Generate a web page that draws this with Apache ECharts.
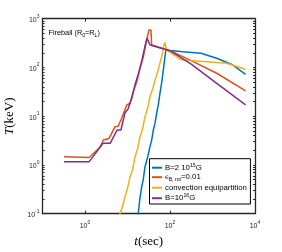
<!DOCTYPE html>
<html>
<head>
<meta charset="utf-8">
<script src="https://cdn.jsdelivr.net/npm/echarts@6/dist/echarts.min.js"></script>
<style>html,body{margin:0;padding:0;background:#fff}#c{width:282px;height:252px}</style>
</head>
<body>
<div id="c"></div>
<script>
// ---- data (t in sec, T in keV) ----
const seriesNames = ['B=2 10^15G', 'eB,rot=0.01', 'convection equipartition', 'B=10^16G'];
const blue_t = [17.0, 17.9, 19.5, 21.6, 23.5, 25.8, 29.5, 33.8, 37.0, 40.5, 44.5, 48.6, 53.0, 58.0, 64.0, 69.7, 75.0, 80.0, 100, 202, 536, 1259, 3020, 6000];
const blue_T = [0.08, 0.1, 0.2, 0.36, 0.5, 0.92, 1.4, 2.37, 3.2, 5.2, 7.2, 11.5, 17.0, 29.5, 50.0, 89.0, 150, 228, 222, 210, 195, 154, 112, 72];
const orange_t = [0.32, 1.26, 2.25, 2.7, 3.67, 5.1, 6.0, 7.3, 9.6, 11.5, 13.7, 16.5, 19.7, 23.6, 28.3, 32.0, 35.7, 37.0, 100, 316, 1259, 6000];
const orange_T = [1.48, 1.42, 2.3, 3.25, 3.5, 6.1, 6.2, 9.1, 17.0, 18.4, 32.0, 51.0, 96.0, 166, 366, 588, 588, 288, 221, 138, 76, 33];
const yellow_t = [6.0, 6.67, 7.6, 8.7, 10.0, 11.5, 13.2, 15.0, 17.2, 19.7, 22.5, 25.8, 29.5, 33.8, 39.0, 44.4, 51.0, 58.0, 66.0, 72.0, 76.0, 83.0, 144, 172, 205, 355, 2140, 6000];
const yellow_T = [0.07, 0.1, 0.14, 0.22, 0.33, 0.575, 0.8, 1.48, 2.1, 3.8, 5.4, 9.8, 14.0, 25.0, 36.0, 55.0, 80.0, 122, 190, 288, 325, 228, 166, 147, 142, 137, 122, 92];
const purple_t = [0.32, 1.26, 2.65, 3.9, 5.7, 7.0, 8.7, 10.3, 12.8, 15.0, 18.6, 21.9, 25.8, 28.8, 31.0, 34.0, 100, 316, 1259, 6000];
const purple_T = [1.17, 1.17, 2.78, 2.78, 5.2, 5.2, 11.6, 14.0, 24.8, 44.0, 81.0, 141, 275, 400, 420, 288, 221, 117, 47, 17];

const xTickVals = [1, 100, 10000];
const yTickVals = [0.1, 1, 10, 100, 1000];
const colors = ['#0072BD', '#D95319', '#EDB120', '#7E2F8E'];

function pairs(a, b) { return a.map((v, i) => [v, b[i]]); }
const yMinor = [];
for (let e = -1; e < 3; e++) { for (let k = 1; k <= 9; k++) yMinor.push(k * Math.pow(10, e)); }
yMinor.push(1000);

const FONT = 'Liberation Sans';
function expFmt(v) {
  const e = Math.round(Math.log10(v));
  return '{b|10}{s|' + e + '}';
}
const tickRich = {
  b: { fontSize: 7, fontFamily: FONT, color: '#262626', lineHeight: 10, verticalAlign: 'bottom' },
  s: { fontSize: 5, fontFamily: FONT, color: '#262626', lineHeight: 10, verticalAlign: 'top' }
};
const axisColor = '#262626';

const legendRich = {
  t: { fontSize: 7.8, fontFamily: FONT, color: '#000', lineHeight: 10 },
  sup: { fontSize: 5.2, fontFamily: FONT, color: '#000', lineHeight: 10, verticalAlign: 'top' },
  sub: { fontSize: 5.2, fontFamily: FONT, color: '#000', lineHeight: 10, verticalAlign: 'bottom' },
  eps: { fontSize: 6.5, fontFamily: 'DejaVu Serif', color: '#000', lineHeight: 10 }
};
const legendLabels = {
  'B=2 10^15G': '{t|B=2 10}{sup|15}{t|G}',
  'eB,rot=0.01': '{eps|ϵ}{sub|B, rot}{t|=0.01}',
  'convection equipartition': '{t|convection equipartition}',
  'B=10^16G': '{t|B=10}{sup|16}{t|G}'
};

const chart = echarts.init(document.getElementById('c'), null, { renderer: 'canvas' });
const dataSets = [pairs(blue_t, blue_T), pairs(orange_t, orange_T), pairs(yellow_t, yellow_T), pairs(purple_t, purple_T)];

chart.setOption({
  animation: false,
  backgroundColor: '#fff',
  title: {
    text: '{b|Fireball (R}{s|0}{b|=R}{s|L}{b|)}',
    left: 48.5, top: 28, padding: 0,
    textStyle: {
      fontWeight: 'normal',
      rich: {
        b: { fontSize: 7.3, fontFamily: FONT, fontWeight: 'normal', color: '#000', lineHeight: 10 },
        s: { fontSize: 5.2, fontFamily: FONT, fontWeight: 'normal', color: '#000', lineHeight: 10, verticalAlign: 'bottom' }
      }
    }
  },
  grid: { left: 42.5, right: 27, top: 18.7, bottom: 38.3, containLabel: false, outerBoundsMode: 'none' },
  xAxis: [{
    type: 'log', logBase: 10, min: 0.1, max: 10000, position: 'bottom',
    name: '{i|t}{n|(sec)}', nameLocation: 'middle', nameGap: 19,
    nameTextStyle: { rich: {
      i: { fontFamily: 'Liberation Serif', fontStyle: 'italic', fontSize: 13, color: '#000' },
      n: { fontFamily: 'Liberation Serif', fontSize: 13, color: '#000' } } },
    axisLine: { show: true, lineStyle: { color: axisColor, width: 1.3 } },
    axisTick: { show: true, inside: true, length: 3, customValues: xTickVals, lineStyle: { color: axisColor } },
    axisLabel: { customValues: xTickVals, formatter: expFmt, margin: 6, rich: tickRich },
    splitLine: { show: false }
  }, {
    type: 'log', logBase: 10, min: 0.1, max: 10000, position: 'top',
    axisLine: { show: true, lineStyle: { color: axisColor, width: 1.3 } },
    axisTick: { show: true, inside: true, length: 3, customValues: xTickVals, lineStyle: { color: axisColor } },
    axisLabel: { show: false },
    splitLine: { show: false }
  }],
  yAxis: [{
    type: 'log', logBase: 10, min: 0.1, max: 1000, position: 'left',
    name: '{i|T}{n|(keV)}', nameLocation: 'middle', nameGap: 20, nameRotate: 90,
    nameTextStyle: { rich: {
      i: { fontFamily: 'Liberation Serif', fontStyle: 'italic', fontSize: 13, color: '#000' },
      n: { fontFamily: 'Liberation Serif', fontSize: 13, color: '#000' } } },
    axisLine: { show: true, lineStyle: { color: axisColor, width: 1.3 } },
    axisTick: { show: true, inside: true, length: 2, customValues: yMinor, lineStyle: { color: axisColor } },
    axisLabel: { customValues: yTickVals, formatter: expFmt, margin: 3, rich: tickRich },
    splitLine: { show: false }
  }, {
    type: 'log', logBase: 10, min: 0.1, max: 1000, position: 'right',
    axisLine: { show: true, lineStyle: { color: axisColor, width: 1.3 } },
    axisTick: { show: true, inside: true, length: 2, customValues: yMinor, lineStyle: { color: axisColor } },
    axisLabel: { show: false },
    splitLine: { show: false }
  }],
  legend: {
    orient: 'vertical', left: 149.5, top: 158.7,
    backgroundColor: '#fff', borderColor: '#000', borderWidth: 1,
    padding: [4, 3.5, 1.8, 2.5], itemGap: 1.5, itemWidth: 10, itemHeight: 2,
    icon: 'rect',
    data: seriesNames,
    formatter: n => legendLabels[n],
    textStyle: { rich: legendRich, padding: [0, 0, 0, -2] }
  },
  series: seriesNames.map((n, i) => ({
    name: n, type: 'line', data: dataSets[i], xAxisIndex: 0, yAxisIndex: 0,
    showSymbol: false, symbol: 'none', clip: true,
    lineStyle: { color: colors[i], width: 1.5 },
    itemStyle: { color: colors[i] },
    z: 2
  }))
});
</script>
</body>
</html>
